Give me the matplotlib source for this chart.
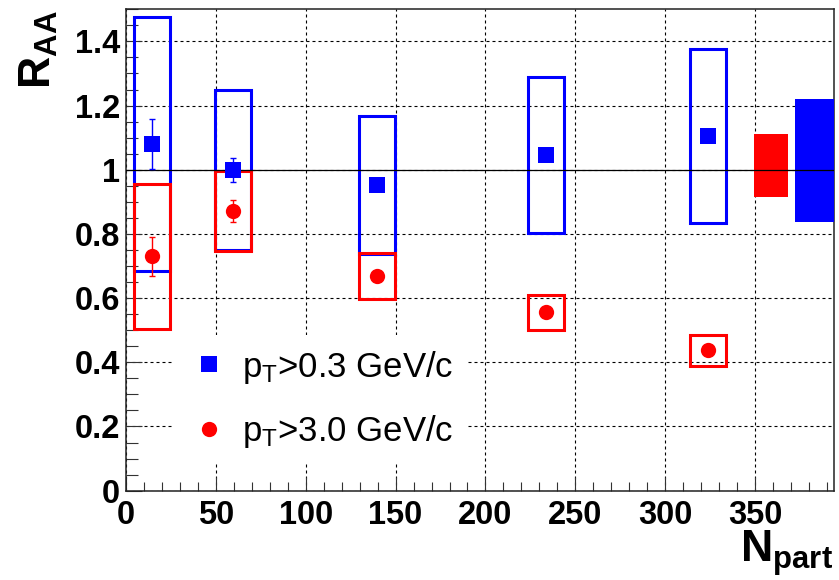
import matplotlib

matplotlib.use("Agg")
import matplotlib.pyplot as plt
from matplotlib.ticker import MultipleLocator, FuncFormatter

plt.rcParams["font.family"] = ["Liberation Sans", "DejaVu Sans"]
plt.rcParams["mathtext.fontset"] = "custom"
plt.rcParams["mathtext.rm"] = "Liberation Sans"
plt.rcParams["mathtext.bf"] = "Liberation Sans:bold"
plt.rcParams["mathtext.it"] = "Liberation Sans:italic"

# Npart centres of the five centrality bins
npart = [14.3, 59.5, 139.5, 233.5, 323.5]

# pT > 0.3 GeV/c
raa_low = [1.079, 1.000, 0.954, 1.046, 1.106]
stat_low = [0.078, 0.038, 0.010, 0.010, 0.010]
sys_low = [0.396, 0.250, 0.215, 0.243, 0.271]

# pT > 3.0 GeV/c
raa_high = [0.730, 0.872, 0.668, 0.556, 0.437]
stat_high = [0.062, 0.034, 0.010, 0.010, 0.010]
sys_high = [0.225, 0.124, 0.072, 0.054, 0.047]

# global normalisation uncertainties (boxes at the right, around 1)
norm_x = [359, 383]
norm_width = [19, 22]
norm_centre = [1.012, 1.028]
norm_half = [0.098, 0.192]
norm_colors = ["#ff0000", "#0000ff"]

BLUE = "#0000ff"
RED = "#ff0000"
BOX_W = 20

fig = plt.figure(figsize=(8.39, 5.80), dpi=100)
ax = fig.add_axes([0.150, 0.154, 0.8444, 0.830])

# systematic boxes
ax.bar(npart, [2 * s for s in sys_low], bottom=[r - s for r, s in zip(raa_low, sys_low)],
       width=BOX_W, fill=False, edgecolor=BLUE, linewidth=2.2, zorder=3)
ax.bar(npart, [2 * s for s in sys_high], bottom=[r - s for r, s in zip(raa_high, sys_high)],
       width=BOX_W, fill=False, edgecolor=RED, linewidth=2.2, zorder=4)

# normalisation boxes
ax.bar(norm_x, [2 * h for h in norm_half], bottom=[c - h for c, h in zip(norm_centre, norm_half)],
       width=norm_width, color=norm_colors, linewidth=0, zorder=3)

ax.axhline(1.0, color="black", linewidth=0.9, zorder=6)

# stat errors + points
ax.errorbar(npart, raa_low, yerr=stat_low, fmt="none", ecolor=BLUE, elinewidth=1.0,
            capsize=2.2, capthick=1.0, zorder=7)
ax.errorbar(npart, raa_high, yerr=stat_high, fmt="none", ecolor=RED, elinewidth=1.0,
            capsize=2.2, capthick=1.0, zorder=7)
ax.plot(npart, raa_low, "s", color=BLUE, markersize=11.5, markeredgewidth=0, zorder=8,
        label=r"p$_{\mathrm{T}}$>0.3 GeV/c", linestyle="none")
ax.plot(npart, raa_high, "o", color=RED, markersize=11, markeredgewidth=0, zorder=8,
        label=r"p$_{\mathrm{T}}$>3.0 GeV/c", linestyle="none")

ax.set_xlim(0, 394)
ax.set_ylim(0, 1.5)
ax.xaxis.set_major_locator(MultipleLocator(50))
ax.xaxis.set_minor_locator(MultipleLocator(10))
ax.yaxis.set_major_locator(MultipleLocator(0.2))
ax.yaxis.set_minor_locator(MultipleLocator(0.05))
ax.yaxis.set_major_formatter(FuncFormatter(lambda v, p: f"{v:g}"))

ax.grid(True, which="major", color="black", linestyle=(0, (2.7, 2.7)), linewidth=0.8, zorder=0)
ax.set_axisbelow(True)

ax.tick_params(axis="both", which="both", direction="in", color="#333333", width=0.8)
ax.tick_params(axis="x", which="major", length=10, pad=7)
ax.tick_params(axis="x", which="minor", length=6.3)
ax.tick_params(axis="y", which="major", length=11.3, pad=4)
ax.tick_params(axis="y", which="minor", length=8.4)
for lab in ax.get_xticklabels() + ax.get_yticklabels():
    lab.set_fontsize(23.5)
    lab.set_fontweight("bold")
for sp in ax.spines.values():
    sp.set_linewidth(1.1)
    sp.set_color("#222222")

leg = ax.legend(loc="upper left", bbox_to_anchor=(0.066, 0.324), fontsize=25,
                frameon=True, fancybox=False, borderpad=0.4, handlelength=1.27,
                handletextpad=0.33, labelspacing=0.8, borderaxespad=0)
leg.get_frame().set_facecolor("white")
leg.get_frame().set_edgecolor("none")
leg.get_frame().set_alpha(1)
leg.set_zorder(5)

fig.text(0.046, 0.983, r"$\mathbf{R}_{\mathbf{AA}}$", rotation=90, ha="center", va="top",
         fontsize=32)
fig.text(0.993, 0.0897, r"$\mathbf{N}_{\mathbf{part}}$", ha="right", va="top", fontsize=32)

fig.savefig("out.png", dpi=100)
